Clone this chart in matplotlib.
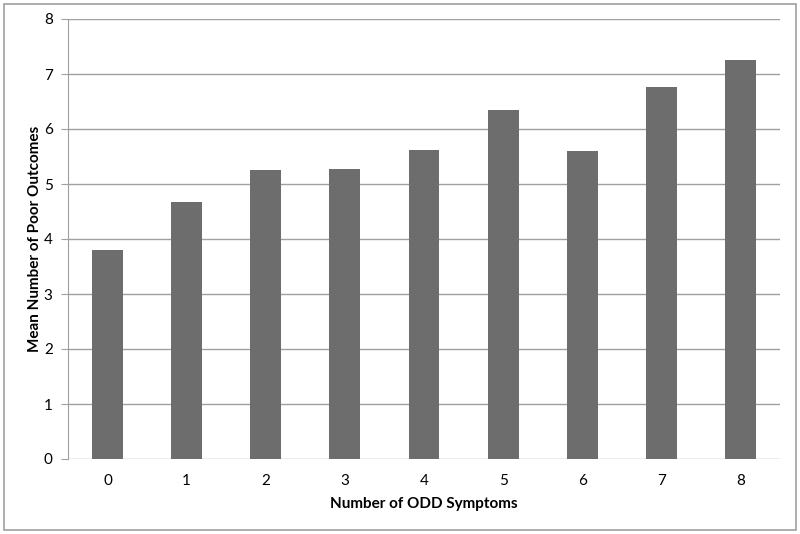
import matplotlib.pyplot as plt
from matplotlib.patches import Rectangle

# Daten
symptome = ["0", "1", "2", "3", "4", "5", "6", "7", "8"]
mittelwerte = [3.80, 4.67, 5.25, 5.27, 5.62, 6.35, 5.60, 6.76, 7.25]
y_ticks = [0, 1, 2, 3, 4, 5, 6, 7, 8]

plt.rcParams["font.family"] = ["Lato", "DejaVu Sans"]

fig = plt.figure(figsize=(8, 5.34), dpi=100)
ax = fig.add_axes([68 / 800, 1 - 459 / 534, 712 / 800, 440 / 534])

# Rahmen um die ganze Grafik
fig.patches.append(Rectangle((4 / 800, 4 / 534), 792 / 800, 526 / 534,
                             transform=fig.transFigure, fill=False,
                             edgecolor="#a0a0a0", linewidth=1.2))

x = range(len(symptome))
ax.bar(x, mittelwerte, width=0.39, color="#6d6d6d", zorder=3)

ax.set_xlim(-0.5, len(symptome) - 0.5)
ax.set_ylim(0, 8)
ax.set_yticks(y_ticks)
ax.set_xticks(list(x))
ax.set_xticklabels(symptome)
ax.yaxis.grid(True, color="#a0a0a0", linewidth=1, zorder=0)

for s in ["top", "right", "bottom"]:
    ax.spines[s].set_visible(False)
ax.spines["left"].set_color("#a0a0a0")
ax.tick_params(axis="y", length=5, color="#a0a0a0", labelsize=11, pad=6)
ax.tick_params(axis="x", length=0, labelsize=11, pad=11)

ax.set_xlabel("Number of ODD Symptoms", fontsize=11, fontweight="bold", labelpad=6)
ax.set_ylabel("Mean Number of Poor Outcomes", fontsize=11, fontweight="bold", labelpad=1)

fig.savefig("out.png", dpi=100)
